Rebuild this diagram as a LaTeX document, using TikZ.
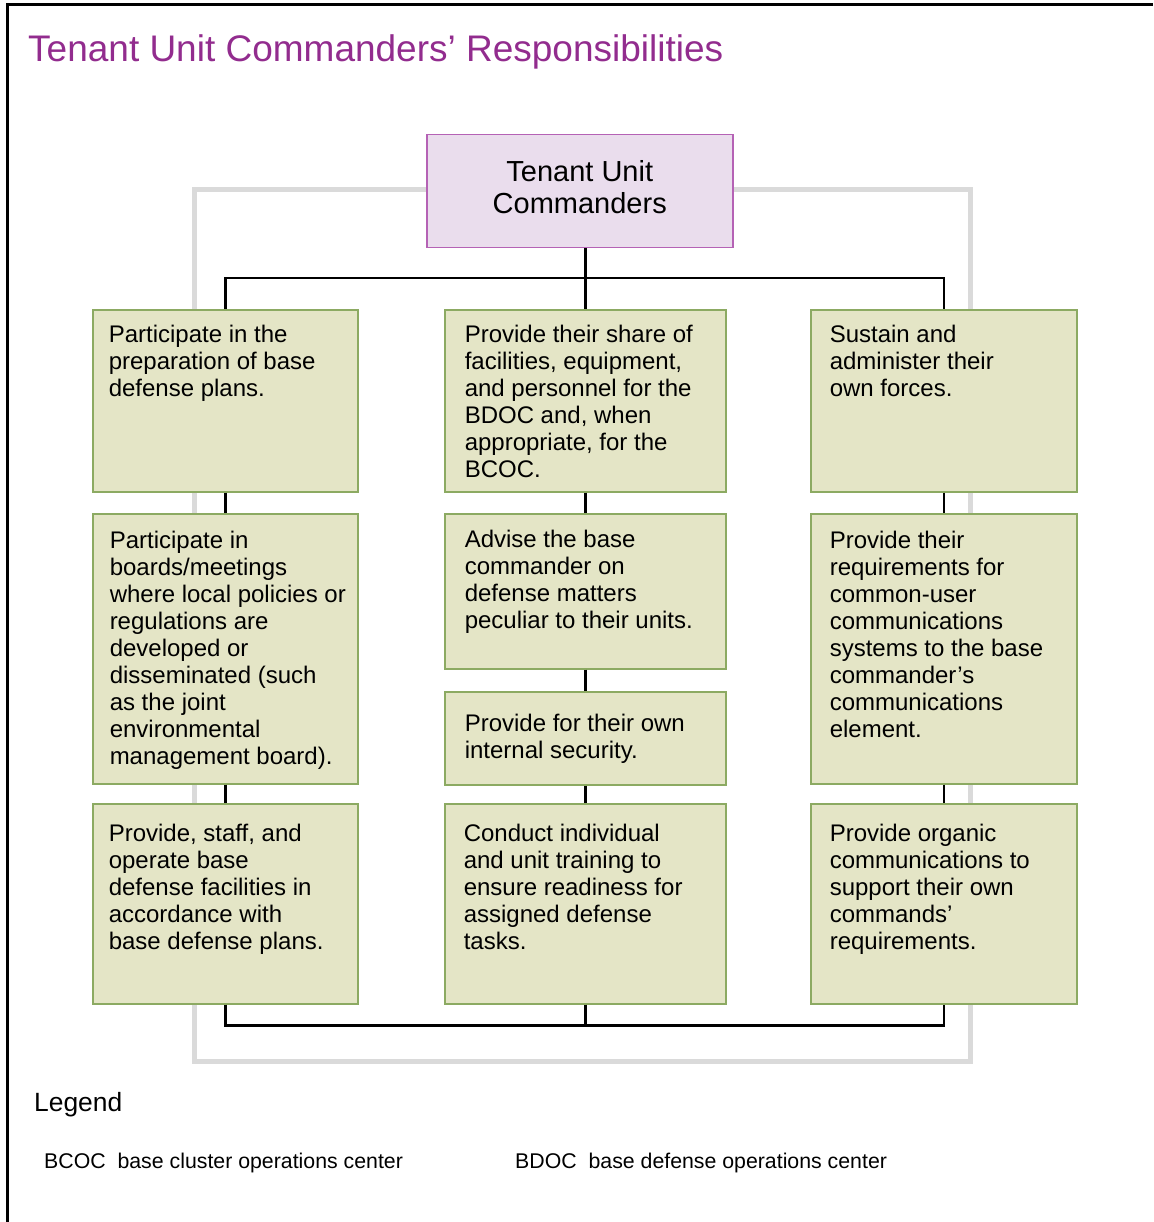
\documentclass[tikz,border=0pt]{standalone}
\usepackage{fontspec}
\setmainfont{Liberation Sans}
\usepackage{tikz}
\definecolor{titlePurple}{HTML}{922C8E}
\definecolor{tucFill}{HTML}{EADDED}
\definecolor{tucLine}{HTML}{B562B5}
\definecolor{taskFill}{HTML}{E4E5C6}
\definecolor{taskLine}{HTML}{8CAA62}
\definecolor{frameGray}{HTML}{DADADA}
\newcommand{\taskText}[5]{\parbox[t][#2pt][t]{#1pt}{\raggedright\leftskip=#3pt\rule{0pt}{#4pt}#5}}

\begin{document}
\begin{tikzpicture}[x=1pt, y=-1pt]
        \tikzset{
           pageTitle/.style={
                        anchor=base west,
                        inner sep=0pt,
                        text=titlePurple,
                        font=\fontsize{37}{44}\selectfont
                       },
           commander/.style={
                        rectangle,
                        draw=tucLine,
                        line width=1.5pt,
                        fill=tucFill,
                        text=black,
                        anchor=north west,
                        minimum width=306pt,
                        minimum height=113pt,
                        align=center,
                        text depth=8pt,
                        font=\fontsize{29}{32}\selectfont
                       },
           task/.style={
                        rectangle,
                        draw=taskLine,
                        line width=1.5pt,
                        fill=taskFill,
                        text=black,
                        anchor=north west,
                        inner sep=0pt,
                        font=\fontsize{24}{27}\selectfont
                       },
           link/.style={
                        draw=black,
                        line width=2.5pt
                       },
           frameLine/.style={
                        draw=frameGray,
                        line width=5pt
                       },
           legendHead/.style={
                        anchor=base west,
                        inner sep=0pt,
                        font=\fontsize{26.4}{30}\selectfont
                       },
           legendText/.style={
                        anchor=base west,
                        inner sep=0pt,
                        font=\fontsize{21.3}{25}\selectfont
                       },
                 };
    %--------------------
        \useasboundingbox (0,0) rectangle (1153,1222);
        \draw[line width=3pt] (7,1222) -- (7,5) -- (1153,5);
        \draw[frameLine] (194,190) rectangle (970,1061);
    %--------------------
        \node[pageTitle]  (title)  at (28,62)   {Tenant Unit Commanders’ Responsibilities};

        \node[commander]  (tuc)    at (426,134) {Tenant Unit\\Commanders};

        \node[task] (L1) at (92,309)  {\taskText{265}{182}{16}{33}{Participate in the\\preparation of base\\defense plans.}};
        \node[task] (L2) at (92,513)  {\taskText{265}{270}{17}{35}{Participate in\\boards/meetings\\where local policies or\\regulations are\\developed or\\disseminated (such\\as the joint\\environmental\\management board).}};
        \node[task] (L3) at (92,803)  {\taskText{265}{200}{16}{38}{Provide, staff, and\\operate base\\defense facilities in\\accordance with\\base defense plans.}};

        \node[task] (M1) at (444,309) {\taskText{281}{182}{20}{33}{Provide their share of\\facilities, equipment,\\and personnel for the\\BDOC and, when\\appropriate, for the\\BCOC.}};
        \node[task] (M2) at (444,513) {\taskText{281}{155}{20}{34}{Advise the base\\commander on\\defense matters\\peculiar to their units.}};
        \node[task] (M3) at (444,691) {\taskText{281}{93}{20}{40}{Provide for their own\\internal security.}};
        \node[task] (M4) at (444,803) {\taskText{281}{200}{19}{38}{Conduct individual\\and unit training to\\ensure readiness for\\assigned defense\\tasks.}};

        \node[task] (R1) at (810,309) {\taskText{266}{182}{19}{33}{Sustain and\\administer their\\own forces.}};
        \node[task] (R2) at (810,513) {\taskText{266}{270}{19}{35}{Provide their\\requirements for\\common-user\\communications\\systems to the base\\commander’s\\communications\\element.}};
        \node[task] (R3) at (810,803) {\taskText{266}{200}{19}{38}{Provide organic\\communications to\\support their own\\commands’\\requirements.}};

        \node[legendHead] (legend) at (34,1111)  {Legend};
        \node[legendText] (bcoc)   at (44,1168)  {BCOC\ \ base cluster operations center};
        \node[legendText] (bdoc)   at (515,1168) {BDOC\ \ base defense operations center};
    %--------------------
        \draw[link] (tuc.south -| M1.north) -- (M1.north);
        \draw[link] (L1.north) -- ++(0,-31) coordinate (topBus) -| (R1.north);
        \draw[link] (L3.south) -- ++(0,21) coordinate (lowBus) -| (R3.south);
        \draw[link] (M4.south) -- (M4.south |- lowBus);

        \path[link] (L1) edge (L2)
                    (L2) edge (L3)

                    (M1) edge (M2)
                    (M2) edge (M3)
                    (M3) edge (M4)

                    (R1) edge (R2)
                    (R2) edge (R3);
    \end{tikzpicture}
\end{document}
